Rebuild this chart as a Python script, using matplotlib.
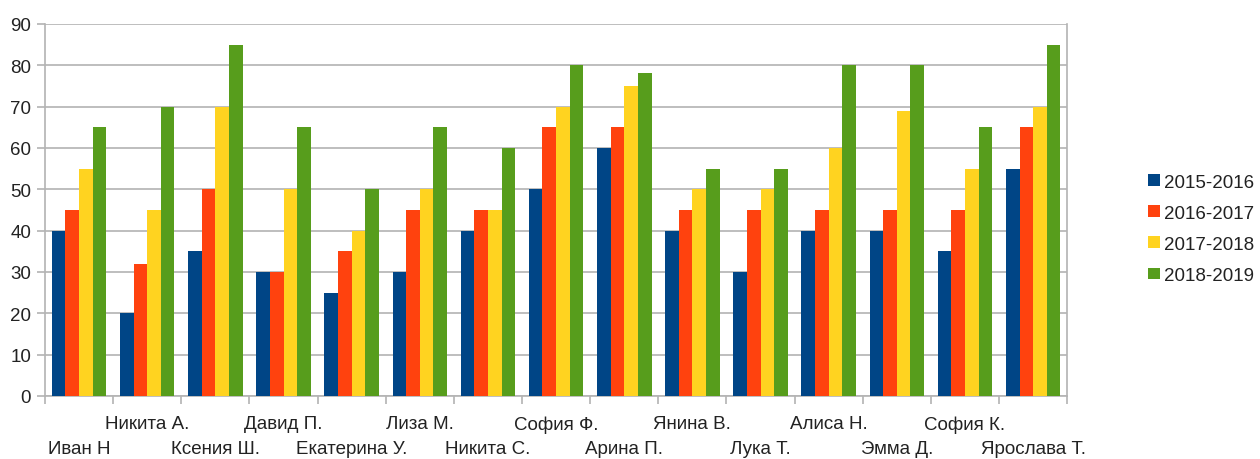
import numpy as np
import matplotlib.pyplot as plt

plt.rcParams['font.family'] = ['Liberation Sans', 'DejaVu Sans']

students = ['Иван Н', 'Никита А.', 'Ксения Ш.', 'Давид П.', 'Екатерина У.',
            'Лиза М.', 'Никита С.', 'София Ф.', 'Арина П.', 'Янина В.',
            'Лука Т.', 'Алиса Н.', 'Эмма Д.', 'София К.', 'Ярослава Т.']
years = ['2015-2016', '2016-2017', '2017-2018', '2018-2019']
y2015 = [40, 20, 35, 30, 25, 30, 40, 50, 60, 40, 30, 40, 40, 35, 55]
y2016 = [45, 32, 50, 30, 35, 45, 45, 65, 65, 45, 45, 45, 45, 45, 65]
y2017 = [55, 45, 70, 50, 40, 50, 45, 70, 75, 50, 50, 60, 69, 55, 70]
y2018 = [65, 70, 85, 65, 50, 65, 60, 80, 78, 55, 55, 80, 80, 65, 85]
colors = ['#004586', '#ff420e', '#ffd320', '#579d1c']

fig = plt.figure(figsize=(12.6, 4.6), dpi=100)
ax = fig.add_axes([0.0357, 0.137, 0.8113, 0.809])

x = np.arange(len(students))
w = 0.2
for i, (vals, c, lab) in enumerate(zip([y2015, y2016, y2017, y2018], colors, years)):
    ax.bar(x + (i - 1.5) * w, vals, w, color=c, label=lab, zorder=3)

ax.set_xlim(-0.5, len(students) - 0.5)
ax.set_ylim(0, 90)
ax.set_yticks(range(0, 91, 10))
ax.yaxis.grid(True, color='#b3b3b3', linewidth=1.2, zorder=0)

# staggered category labels (two rows)
ax.set_xticks(x)
ax.set_xticklabels([])
ax.tick_params(axis='x', length=0)
trans = ax.get_xaxis_transform()
for i, s in enumerate(students):
    ypos = -0.142 if i % 2 == 0 else -0.075
    ax.text(i, ypos, s, transform=trans, ha='center', va='center',
            fontsize=13.5, color='#222222')

ax.set_xticks(np.arange(-0.5, len(students)), minor=True)
ax.tick_params(axis='x', which='minor', length=6, color='#b3b3b3', width=1.2)
ax.tick_params(axis='y', length=6, color='#b3b3b3', width=1.2,
               labelsize=13.5, labelcolor='#222222', pad=4)

for s in ['left', 'right', 'bottom']:
    ax.spines[s].set_color('#b3b3b3')
    ax.spines[s].set_linewidth(1.2)
ax.spines['top'].set_visible(False)

fig.legend(loc='center left', bbox_to_anchor=(0.898, 0.5), frameon=False,
           fontsize=13.5, handlelength=0.6, handleheight=0.6, handletextpad=0.25,
           labelspacing=0.75, labelcolor='#222222')

fig.savefig('out.png', dpi=100)
